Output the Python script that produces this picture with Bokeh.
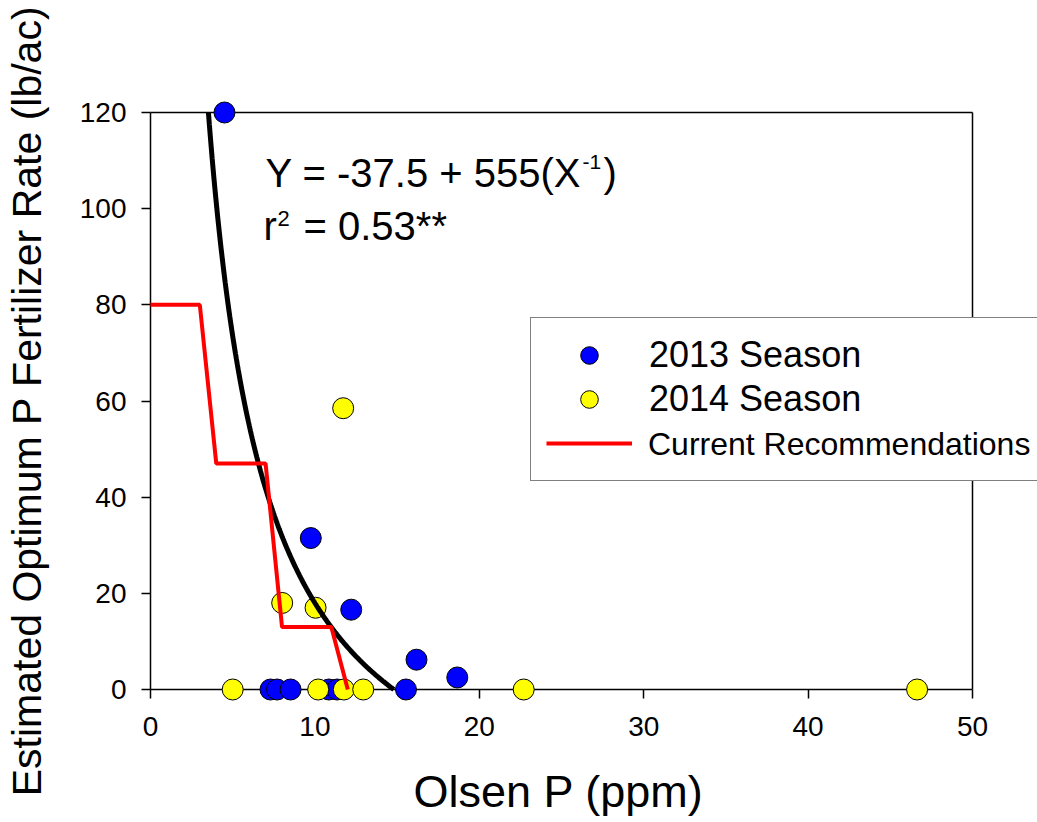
from bokeh.plotting import figure
from bokeh.models import Range1d, Legend, LegendItem, Label, FixedTicker, Title
from bokeh.embed import file_html
from bokeh.resources import INLINE
import numpy as np

# ---- data ----
x2013 = [4.5, 9.75, 12.21, 16.18, 18.66, 15.54, 7.30, 7.70, 8.52, 10.85, 11.35]
y2013 = [120.0, 31.5, 16.6, 6.2, 2.5, 0, 0, 0, 0, 0, 0]
x2014 = [11.72, 8.01, 10.04, 5.0, 10.2, 11.76, 12.94, 22.7, 46.63]
y2014 = [58.5, 18.0, 17.0, 0, 0, 0, 0, 0, 0]
rec_x = [0, 3, 4, 7, 8, 11, 12]
rec_y = [80, 80, 47, 47, 13, 13, 0]
fit_a, fit_b = -37.5, 555.0          # Y = a + b / X (shown equation)
x_ticks = [0, 10, 20, 30, 40, 50]
y_ticks = [0, 20, 40, 60, 80, 100, 120]
x_lim = (0, 50)
y_lim = (0, 120)

# fitted curve from the displayed equation, from Y=120 down to Y=0
x_fit = np.linspace(fit_b / (y_lim[1] - fit_a), -fit_b / fit_a, 200)
y_fit = fit_a + fit_b / x_fit

FONT = "Liberation Sans"
W, H = 1037, 822
LEFT, TOP = 150, 112
AXW, AXH = 822, 577          # size of the boxed axes area (0..50, 0..120)
FW = W - LEFT                # frame extends to the right so the legend can overhang
x_end = x_lim[1] * FW / AXW

p = figure(frame_width=FW, frame_height=AXH,
           x_range=Range1d(x_lim[0], x_end), y_range=Range1d(*y_lim),
           output_backend="svg", toolbar_location=None,
           min_border_left=LEFT, min_border_right=0,
           min_border_top=TOP, min_border_bottom=H - TOP - AXH,
           background_fill_color="white", border_fill_color="white")

p.grid.visible = False
p.outline_line_alpha = 0

for ax in (p.xaxis[0], p.yaxis[0]):
    ax.axis_line_color = "black"
    ax.axis_line_width = 1.5
    ax.major_tick_line_color = "black"
    ax.major_tick_line_width = 1.5
    ax.major_tick_in = 0
    ax.major_tick_out = 9
    ax.minor_tick_in = 0
    ax.minor_tick_out = 0
    ax.major_label_text_font = FONT
    ax.major_label_text_font_size = "28px"
    ax.major_label_text_color = "black"
    ax.axis_label_text_font = FONT
    ax.axis_label_text_font_style = "normal"
    ax.axis_label_text_color = "black"

p.xaxis.axis_line_alpha = 0
p.xaxis.ticker = FixedTicker(ticks=x_ticks)
p.yaxis.ticker = FixedTicker(ticks=y_ticks)
p.yaxis.axis_label = "Estimated Optimum P Fertilizer Rate (lb/ac)"
p.yaxis.axis_label_text_font_size = "41px"
p.xaxis.major_label_standoff = 18
p.yaxis.major_label_standoff = 15
p.yaxis.axis_label_standoff = 27

# x-axis title, left-aligned so it is centred under the 0..50 box
p.add_layout(Title(text="Olsen P (ppm)", align="left", offset=263,
                   vertical_align="top", standoff=54,
                   text_font=FONT, text_font_size="45px",
                   text_font_style="normal", text_color="black"), "below")

# box around the axes area (bottom, top, right)
p.line([x_lim[0], x_lim[1]], [y_lim[0], y_lim[0]], line_color="black", line_width=1.5, level="annotation")
p.line([x_lim[0], x_lim[1]], [y_lim[1], y_lim[1]], line_color="black", line_width=1.5, level="annotation")
p.line([x_lim[1], x_lim[1]], [y_lim[0], y_lim[1]], line_color="black", line_width=1.5, level="annotation")

r13 = p.scatter(x2013, y2013, size=21, fill_color="#0000FF", line_color="black",
                line_width=1, level="annotation")
r14 = p.scatter(x2014, y2014, size=21, fill_color="#FFFF00", line_color="black",
                line_width=1, level="annotation")
rfit = p.line(x_fit, y_fit, line_color="black", line_width=5, level="annotation")
rrec = p.line(rec_x, rec_y, line_color="#FF0000", line_width=4, level="annotation")
rdummy = p.line([0, 0], [0, 0], line_alpha=0)

legA = Legend(items=[LegendItem(label="2013 Season", renderers=[r13]),
                     LegendItem(label="2014 Season", renderers=[r14]),
                     LegendItem(label="", renderers=[rrec])],
              location=(380, 208), padding=15, spacing=0,
              glyph_width=86, glyph_height=44, label_standoff=17,
              label_width=380, label_height=20,
              label_text_font=FONT, label_text_font_size="36px",
              label_text_color="black",
              border_line_color="black", border_line_width=1.5,
              background_fill_color="white", background_fill_alpha=1)
legB = Legend(items=[LegendItem(label="Current Recommendations", renderers=[rdummy])],
              location=(380, 208), padding=15, spacing=0,
              glyph_width=86, glyph_height=44, label_standoff=17,
              label_text_font=FONT, label_text_font_size="32px",
              label_text_color="black",
              border_line_alpha=0, background_fill_alpha=0)
p.add_layout(legA)
p.add_layout(legB)

# equation text (positions given in reference pixels, converted to data units)
def dx(px):
    return (px - LEFT) / (AXW / x_lim[1])

def dy(py):
    return (TOP + AXH - py) / (AXH / y_lim[1])

def lab(px, base_py, text, size):
    # text is vertically centred; baseline sits ~0.35 em below the centre
    mid = base_py - 0.3465 * size
    p.add_layout(Label(x=dx(px), y=dy(mid), text=text, text_font=FONT,
                       text_font_size=f"{size}px", text_color="black",
                       text_baseline="middle", text_align="left"))

lab(265, 186, "Y = -37.5 + 555(X", 40)
lab(582, 169, "-1", 21)
lab(603, 186, ")", 40)
lab(263, 239, "r", 40)
lab(277, 226, "2", 22)
lab(303, 239, "= 0.53**", 40)

open("out.html", "w").write(file_html(p, INLINE))
